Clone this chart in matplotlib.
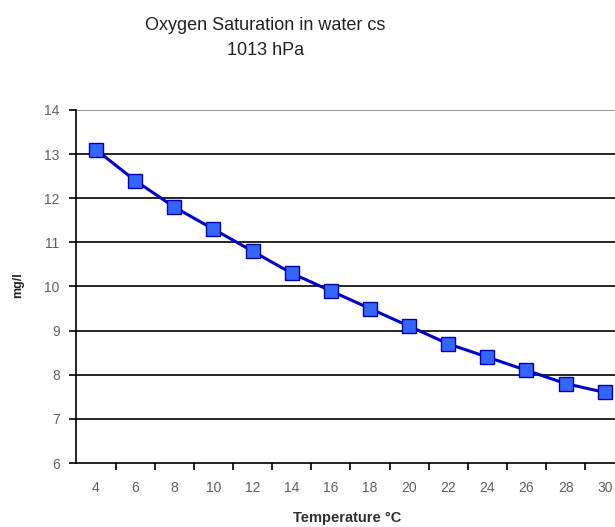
import numpy as np
import matplotlib.pyplot as plt

# dissolved oxygen at saturation vs water temperature
temps = [4, 6, 8, 10, 12, 14, 16, 18, 20, 22, 24, 26, 28, 30]
oxygen = [13.1, 12.4, 11.8, 11.3, 10.8, 10.3, 9.9, 9.5, 9.1, 8.7, 8.4, 8.1, 7.8, 7.6]
yticks = [6, 7, 8, 9, 10, 11, 12, 13, 14]

plt.rcParams['font.family'] = ['Liberation Sans', 'DejaVu Sans']

fig = plt.figure(figsize=(6.15, 5.27), dpi=100)
ax = fig.add_axes([0.1242, 0.1214, 0.891, 0.670])

# category axis: points sit in the middle of each slot
pos = np.arange(len(temps))
ax.set_xlim(-0.5, len(temps) - 0.5)
ax.set_ylim(6, 14)

for y in yticks[1:]:
    ax.axhline(y, color='#808080' if y == 14 else 'black', lw=1.2, zorder=1)

ax.plot(pos, oxygen, color='#0000cc', lw=2.2, marker='s', ms=10,
        mfc='#3366ff', mec='#0000aa', mew=1, zorder=3, clip_on=False)

ax.spines['top'].set_visible(False)
ax.spines['right'].set_visible(False)
ax.spines['left'].set_linewidth(1.2)
ax.spines['bottom'].set_linewidth(1.2)

ax.set_yticks(yticks)
ax.set_xticks(pos)
ax.set_xticklabels([str(t) for t in temps])
ax.set_xticks(np.arange(0.5, len(temps) - 0.5), minor=True)
ax.tick_params(axis='x', which='major', length=0, pad=13, labelsize=10, labelcolor='#606060')
ax.tick_params(axis='x', which='minor', length=5, width=1.2, direction='out')
ax.tick_params(axis='y', length=5, width=1.2, pad=7, labelsize=10, labelcolor='#606060')

fig.text(0.431, 0.952, 'Oxygen Saturation in water cs', ha='center', va='center',
         fontsize=13, color='#222222')
fig.text(0.431, 0.905, '1013 hPa', ha='center', va='center',
         fontsize=13, color='#222222')

fig.text(0.565, 0.017, 'Temperature °C', ha='center', va='center', fontsize=10.5,
         fontweight='bold', color='#303030')
fig.text(0.030, 0.459, 'mg/l', ha='center', va='center', rotation=90, fontsize=9,
         fontweight='bold', color='#222222')

fig.savefig('out.png', dpi=100)
